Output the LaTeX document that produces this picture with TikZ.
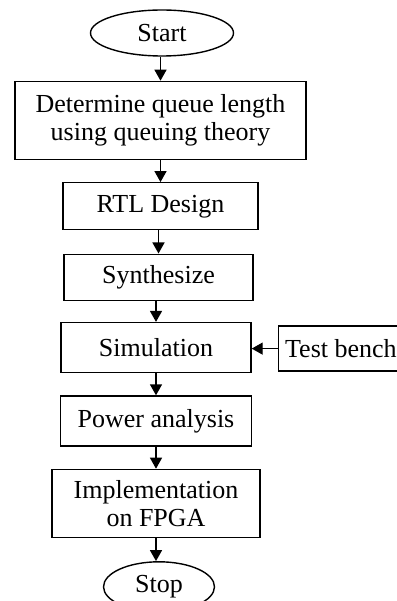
\documentclass[tikz,border=0pt]{standalone}
\usepackage{fontspec}
\setmainfont{Liberation Serif}
\usetikzlibrary{positioning,shapes.geometric,arrows.meta}

\begin{document}
\begin{tikzpicture}[x=1pt, y=1pt, node distance=22pt, line width=1.4pt,
	>={Triangle[width=12pt,length=11pt]},
	every node/.style={font=\fontsize{26}{28.5}\selectfont, inner sep=0pt},
	term node/.style={ellipse, draw},
	main node/.style={rectangle, draw, align=center, minimum height=47pt}]
	\useasboundingbox (0,0) rectangle (396,-601);
	
	\node[term node, minimum width=143pt, minimum height=46pt] (start) at (162,-33) {Start};
	\node[main node, minimum width=291pt, minimum height=78pt] (det) [below=24pt of start, xshift=-1.5pt] {Determine queue length\\using queuing theory};
	\node[main node, minimum width=195pt] (rtl) [below=of det] {RTL Design};
	\node[main node, minimum width=189pt, minimum height=46pt] (syn) [below=23pt of rtl, xshift=-2pt] {Synthesize};
	\node[main node, minimum width=190pt, minimum height=50pt] (sim) [below=21pt of syn, xshift=-2.5pt] {Simulation};
	\node[main node, minimum width=125pt, minimum height=45pt] (tb) [right=26pt of sim, yshift=-1pt] {Test bench};
	\node[main node, minimum width=191pt, minimum height=50pt] (pow) [below=of sim] {Power analysis};
	\node[main node, minimum width=208pt, minimum height=68pt] (impl) [below=of pow] {Implementation\\on FPGA};
	\node[term node, minimum width=111pt, minimum height=50pt] (stop) [below=23pt of impl, xshift=3pt] {Stop};
	
	\draw[->] (start.south -| det) -- (det);
	\draw[->] (det) -- (rtl);
	\draw[->] (rtl.south -| syn) -- (syn);
	\draw[->] (syn.south -| sim) -- (sim);
	\draw[->] (sim) -- (pow);
	\draw[->] (pow) -- (impl);
	\draw[->] (impl.south) -- (impl.south |- stop.north);
	\draw[->] (tb) -- (tb -| sim.east);
\end{tikzpicture}
\end{document}
